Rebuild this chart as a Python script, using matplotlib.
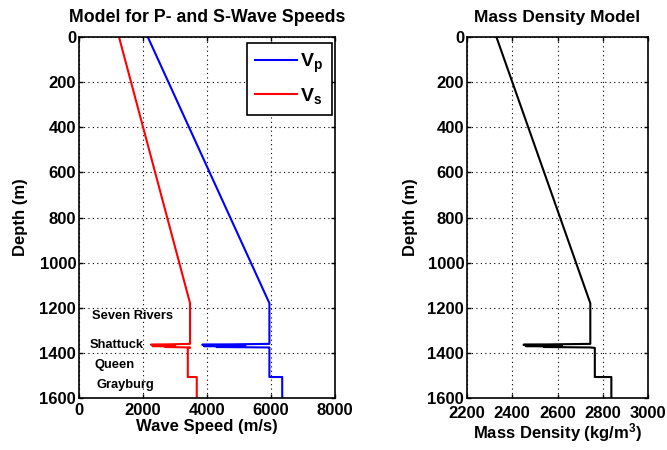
import matplotlib
matplotlib.use("Agg")
import matplotlib.pyplot as plt

plt.rcParams['font.family'] = ['Liberation Sans', 'DejaVu Sans']
plt.rcParams['font.weight'] = 'bold'
plt.rcParams['mathtext.fontset'] = 'custom'
plt.rcParams['mathtext.rm'] = 'Liberation Sans:bold'
plt.rcParams['mathtext.bf'] = 'Liberation Sans:bold'
plt.rcParams['mathtext.it'] = 'Liberation Sans:bold'

depth = [0, 1180, 1360, 1364, 1366, 1367, 1368, 1370, 1372, 1374, 1376, 1378, 1378, 1507, 1507, 1600]
vp = [2150, 5950, 5950, 3850, 5200, 4300, 4800, 3900, 5000, 4300, 5950, 5950, 5950, 5950, 6350, 6350]
vs = [1250, 3470, 3470, 2250, 3000, 2600, 2800, 2300, 3000, 2700, 3470, 3470, 3400, 3400, 3680, 3680]
rho = [2330, 2745, 2745, 2450, 2620, 2520, 2580, 2460, 2600, 2540, 2745, 2765, 2765, 2765, 2838, 2838]

formations = ['Seven Rivers', 'Shattuck', 'Queen', 'Grayburg']
form_x = [400, 340, 470, 560]
form_depth = [1237, 1365, 1454, 1542]

fig = plt.figure(figsize=(6.67, 4.5), dpi=100)
ax1 = fig.add_axes([79/667, 52/450, 256/667, 361/450])
ax2 = fig.add_axes([467/667, 52/450, 181/667, 361/450])

ax1.plot(vp, depth, color='#0000ff', lw=1.5, label=r'$\mathregular{V_p}$')
ax1.plot(vs, depth, color='#ff0000', lw=1.5, label=r'$\mathregular{V_s}$')
ax1.set_xlim(0, 8000)
ax1.set_ylim(1600, 0)
ax1.set_xticks([0, 2000, 4000, 6000, 8000])
ax1.set_yticks(range(0, 1601, 200))
ax1.set_title('Model for P- and S-Wave Speeds', fontsize=12.8, fontweight='bold', pad=11)
ax1.set_xlabel('Wave Speed (m/s)', fontsize=12, fontweight='bold', labelpad=1)
ax1.set_ylabel('Depth (m)', fontsize=12, fontweight='bold', labelpad=8)
for name, x, d in zip(formations, form_x, form_depth):
    ax1.text(x, d, name, fontsize=9.3, fontweight='bold', va='center', ha='left')
leg = ax1.legend(loc='upper right', bbox_to_anchor=(0.988, 0.983), fontsize=14,
                 handlelength=2.15, fancybox=False, edgecolor='black', framealpha=1,
                 borderaxespad=0, labelspacing=0.55, handletextpad=0.15, borderpad=0.45)
leg.get_frame().set_linewidth(1.2)

ax2.plot(rho, depth, color='black', lw=1.5)
ax2.set_xlim(2200, 3000)
ax2.set_ylim(1600, 0)
ax2.set_xticks([2200, 2400, 2600, 2800, 3000])
ax2.set_yticks(range(0, 1601, 200))
ax2.set_title('Mass Density Model', fontsize=12.5, fontweight='bold', pad=11)
ax2.set_xlabel(r'Mass Density (kg/m$\mathregular{^3}$)', fontsize=12, fontweight='bold', labelpad=0)
ax2.set_ylabel('Depth (m)', fontsize=12, fontweight='bold', labelpad=6.5)

for ax in (ax1, ax2):
    ax.grid(True, color='black', linestyle=(0, (1, 3)), linewidth=0.8)
    ax.tick_params(direction='in', labelsize=12, width=1, length=3, top=True, right=True)
    ax.tick_params(axis='x', pad=3.5)
    ax.tick_params(axis='y', pad=2)
    for t in ax.get_xticklabels() + ax.get_yticklabels():
        t.set_fontweight('bold')
    for s in ax.spines.values():
        s.set_linewidth(1.2)
ax2.tick_params(axis='x', pad=5.5)

fig.savefig('out.png', dpi=100)
